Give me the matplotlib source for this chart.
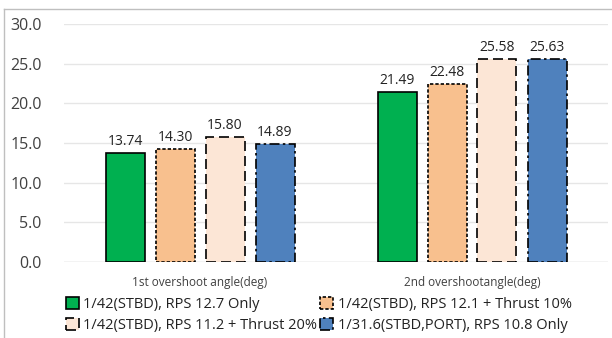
import matplotlib.pyplot as plt
import numpy as np

categorias = ["1st overshoot angle(deg)", "2nd overshootangle(deg)"]
series = [
    "1/42(STBD), RPS 12.7 Only",
    "1/42(STBD), RPS 12.1 + Thrust 10%",
    "1/42(STBD), RPS 11.2 + Thrust 20%",
    "1/31.6(STBD,PORT), RPS 10.8 Only",
]
valores = [
    [13.74, 21.49],
    [14.30, 22.48],
    [15.80, 25.58],
    [14.89, 25.63],
]
colores = ["#00B050", "#F8C08E", "#FCE6D6", "#4F81BD"]
estilos = ["-", (0, (2, 1.2)), (0, (6, 3)), (0, (6, 2, 1.5, 2))]
yticks = [0, 5, 10, 15, 20, 25, 30]

plt.rcParams['font.family'] = ['Open Sans', 'DejaVu Sans']

fig = plt.figure(figsize=(6.12, 3.38), dpi=100)
ax = fig.add_axes([64/612, 1 - 262/338, 544/612, (262 - 24)/338])

x = np.arange(len(categorias))
ancho = 39/272
paso = 50/272
barras = []
for i, (vals, col, ls) in enumerate(zip(valores, colores, estilos)):
    pos = x + (i - 1.5) * paso
    b = ax.bar(pos, vals, ancho, color=col, edgecolor="black",
               linewidth=1.2, linestyle=ls, label=series[i], zorder=3)
    barras.append(b)
    for xb, v in zip(pos, vals):
        ax.text(xb, v + 0.5, f"{v:.2f}", ha="center", va="bottom",
                fontsize=10, color="#222222")

ax.set_xlim(-0.5, 1.5)
ax.set_ylim(0, 30)
ax.set_yticks(yticks)
ax.set_yticklabels([f"{t:.1f}" for t in yticks], fontsize=11.5, color="#404040")
ax.set_xticks(x)
ax.set_xticklabels(categorias, fontsize=8.5, color="#404040")
ax.tick_params(length=0, pad=10)
ax.tick_params(axis="y", pad=16)
ax.grid(axis="y", color="#E6E6E6", linewidth=1, zorder=0)
for s in ax.spines.values():
    s.set_visible(False)
ax.axhline(0, color="#D9D9D9", linewidth=1, zorder=2)

# marco exterior
fig.add_artist(plt.Line2D([4/612, 1], [1 - 9/338, 1 - 9/338], color="#BFBFBF", linewidth=1))
fig.add_artist(plt.Line2D([4/612, 4/612], [0, 1 - 9/338], color="#BFBFBF", linewidth=1))

# orden por filas como en la referencia
orden = [0, 2, 1, 3]
leg = fig.legend([barras[i] for i in orden], [series[i] for i in orden],
                 loc="upper left", bbox_to_anchor=(60/612, 1 - 291/338), ncol=2,
                 frameon=False, fontsize=10.5, handlelength=0.9, handleheight=0.9,
                 handletextpad=0.3, columnspacing=0.2, labelspacing=0.4,
                 borderaxespad=0)
for t in leg.get_texts():
    t.set_color("#222222")

plt.savefig("out.png", dpi=100)
